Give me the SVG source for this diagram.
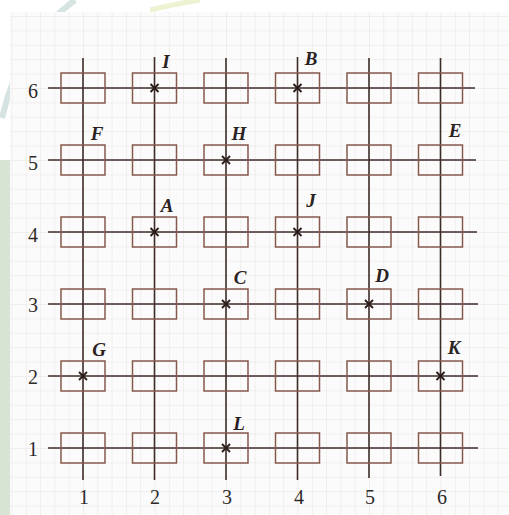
<svg xmlns="http://www.w3.org/2000/svg" width="509" height="515" viewBox="0 0 509 515">
<defs>
<style>
.minor{stroke:#e6e1e1;stroke-width:1}
.axis{stroke:#3e2c28;stroke-width:1.6;fill:none}
.sq{stroke:#86594d;stroke-width:1.5;fill:none}
.x{stroke:#2a1c1a;stroke-width:1.8}
.lbl{font-family:"Liberation Serif",serif;font-style:italic;font-weight:bold;font-size:19px;fill:#2a2222;text-anchor:middle}
.num{font-family:"Liberation Serif",serif;font-size:20px;fill:#2e2a2a;text-anchor:middle}
</style>
<pattern id="grid" x="11.5" y="16" width="14.3" height="14.4" patternUnits="userSpaceOnUse">
<path d="M0 0V14.4M0 0H14.3" class="minor"/>
</pattern>
<rect id="box" x="-22" y="-15" width="44" height="30"/>
<path id="cross" d="M-4 -4L4 4M-4 4L4 -4"/>
</defs>
<rect width="509" height="515" fill="#ffffff"/>
<rect x="0" y="160" width="10" height="355" fill="#d7e3d3"/>
<path d="M2 118 Q20 40 75 0" stroke="#c3d9d5" stroke-width="6" fill="none" opacity="0.7"/>
<path d="M150 10 Q175 4 200 0" stroke="#eef2d2" stroke-width="5" fill="none"/>
<rect x="10" y="12" width="499" height="503" fill="#fcfbfb"/>
<rect x="10" y="12" width="499" height="503" fill="url(#grid)"/>
<g id="connectors">
<path class="axis" d="M48 88H475M48 160H476M48 232H477M48 304H478M48 376H478M48 448H478"/>
<path class="axis" d="M83 58V480M154.5 57V480M226 58V480M297.5 57V480M369 58V478M440.5 58V476"/>
</g>
<g id="squares">
<g class="sq">
<use href="#box" x="83" y="88"/><use href="#box" x="154.5" y="88"/><use href="#box" x="226" y="88"/><use href="#box" x="297.5" y="88"/><use href="#box" x="369" y="88"/><use href="#box" x="440.5" y="88"/>
<use href="#box" x="83" y="160"/><use href="#box" x="154.5" y="160"/><use href="#box" x="226" y="160"/><use href="#box" x="297.5" y="160"/><use href="#box" x="369" y="160"/><use href="#box" x="440.5" y="160"/>
<use href="#box" x="83" y="232"/><use href="#box" x="154.5" y="232"/><use href="#box" x="226" y="232"/><use href="#box" x="297.5" y="232"/><use href="#box" x="369" y="232"/><use href="#box" x="440.5" y="232"/>
<use href="#box" x="83" y="304"/><use href="#box" x="154.5" y="304"/><use href="#box" x="226" y="304"/><use href="#box" x="297.5" y="304"/><use href="#box" x="369" y="304"/><use href="#box" x="440.5" y="304"/>
<use href="#box" x="83" y="376"/><use href="#box" x="154.5" y="376"/><use href="#box" x="226" y="376"/><use href="#box" x="297.5" y="376"/><use href="#box" x="369" y="376"/><use href="#box" x="440.5" y="376"/>
<use href="#box" x="83" y="448"/><use href="#box" x="154.5" y="448"/><use href="#box" x="226" y="448"/><use href="#box" x="297.5" y="448"/><use href="#box" x="369" y="448"/><use href="#box" x="440.5" y="448"/>
</g>
</g>
<g id="point-I"><use href="#cross" class="x" x="154.5" y="88"/><text class="lbl" x="166" y="68">I</text></g>
<g id="point-B"><use href="#cross" class="x" x="297.5" y="88"/><text class="lbl" x="311" y="65">B</text></g>
<g id="point-F"><text class="lbl" x="97" y="140">F</text></g>
<g id="point-H"><use href="#cross" class="x" x="226" y="160"/><text class="lbl" x="239" y="140">H</text></g>
<g id="point-E"><text class="lbl" x="455" y="137">E</text></g>
<g id="point-A"><use href="#cross" class="x" x="154.5" y="232"/><text class="lbl" x="167" y="212">A</text></g>
<g id="point-J"><use href="#cross" class="x" x="297.5" y="232"/><text class="lbl" x="311" y="207">J</text></g>
<g id="point-C"><use href="#cross" class="x" x="226" y="304"/><text class="lbl" x="240" y="284">C</text></g>
<g id="point-D"><use href="#cross" class="x" x="369" y="304"/><text class="lbl" x="382" y="282">D</text></g>
<g id="point-G"><use href="#cross" class="x" x="83" y="376"/><text class="lbl" x="99" y="356">G</text></g>
<g id="point-K"><use href="#cross" class="x" x="440.5" y="376"/><text class="lbl" x="454" y="354">K</text></g>
<g id="point-L"><use href="#cross" class="x" x="226" y="448"/><text class="lbl" x="239" y="430">L</text></g>
<g id="row-labels">
<text class="num" x="33" y="98">6</text>
<text class="num" x="33" y="170">5</text>
<text class="num" x="33" y="242">4</text>
<text class="num" x="33" y="312">3</text>
<text class="num" x="33" y="384">2</text>
<text class="num" x="33" y="456">1</text>
</g>
<g id="col-labels">
<text class="num" x="84" y="504">1</text>
<text class="num" x="155" y="504">2</text>
<text class="num" x="227" y="504">3</text>
<text class="num" x="299" y="504">4</text>
<text class="num" x="370" y="504">5</text>
<text class="num" x="442" y="504">6</text>
</g>
</svg>
